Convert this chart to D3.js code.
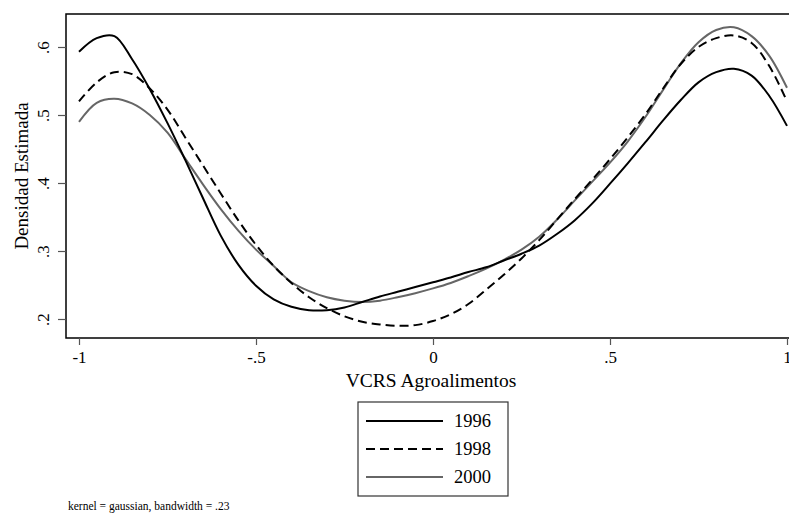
<!DOCTYPE html>
<html>
<head>
<meta charset="utf-8">
<script src="https://cdn.jsdelivr.net/npm/d3@7"></script>
<style>
  body { margin: 0; background: #fff; }
  svg text { font-family: "Liberation Serif", "Times New Roman", "DejaVu Serif", serif !important; }
</style>
</head>
<body>
<div id="chart"></div>
<script>
// Density estimates, grid of x from -1 to 1 by .05
let xGrid = d3.range(41).map(i => -1 + i * 0.05);

let d1996 = [0.593, 0.613, 0.616, 0.582, 0.538, 0.488, 0.434, 0.378, 0.323, 0.280,
             0.249, 0.229, 0.218, 0.213, 0.213, 0.217, 0.225, 0.233, 0.240, 0.247,
             0.254, 0.261, 0.269, 0.276, 0.286, 0.296, 0.308, 0.325, 0.345, 0.370,
             0.399, 0.429, 0.460, 0.492, 0.522, 0.548, 0.563, 0.568, 0.558, 0.528, 0.484];

let d1998 = [0.520, 0.548, 0.563, 0.560, 0.539, 0.508, 0.467, 0.426, 0.385, 0.345,
             0.309, 0.278, 0.253, 0.232, 0.216, 0.204, 0.196, 0.192, 0.190, 0.191,
             0.197, 0.207, 0.222, 0.243, 0.265, 0.289, 0.316, 0.346, 0.376, 0.405,
             0.435, 0.467, 0.501, 0.539, 0.575, 0.600, 0.613, 0.617, 0.606, 0.572, 0.520];

let d2000 = [0.490, 0.518, 0.524, 0.517, 0.500, 0.474, 0.436, 0.398, 0.362, 0.330,
             0.302, 0.278, 0.254, 0.241, 0.232, 0.227, 0.225, 0.227, 0.232, 0.238,
             0.245, 0.253, 0.263, 0.274, 0.287, 0.302, 0.321, 0.346, 0.374, 0.402,
             0.430, 0.461, 0.497, 0.537, 0.576, 0.607, 0.625, 0.629, 0.616, 0.587, 0.540];

let years = ["1996", "1998", "2000"];
let xTicks = [-1, -0.5, 0, 0.5, 1];
let xTickLabels = ["-1", "-.5", "0", ".5", "1"];
let yTicks = [0.2, 0.3, 0.4, 0.5, 0.6];
let yTickLabels = [".2", ".3", ".4", ".5", ".6"];

let series = [
  {name: years[0], values: d1996, color: "#000", dash: null},
  {name: years[1], values: d1998, color: "#000", dash: "9,5"},
  {name: years[2], values: d2000, color: "#666", dash: null}
];

let width = 789;
let height = 521;
let serif = "Liberation Serif";

let svg = d3.select("#chart")
  .append("svg")
  .attr("width", width).attr("height", height)
  .attr("font-family", serif);

// plot area
let frame = {left: 66, top: 14, right: 800, bottom: 338};

let xScale = d3.scaleLinear().domain([-1, 1]).range([79, 787]);
let yScale = d3.scaleLinear().domain([0.2, 0.6]).range([319, 47]);

svg.append("rect")
  .attr("x", frame.left).attr("y", frame.top)
  .attr("width", frame.right - frame.left)
  .attr("height", frame.bottom - frame.top)
  .attr("fill", "none").attr("stroke", "#000").attr("stroke-width", 1.5);

// x axis
let xAxis = svg.append("g")
  .attr("transform", `translate(0,${frame.bottom})`)
  .call(d3.axisBottom(xScale).tickValues(xTicks)
    .tickFormat((d, i) => xTickLabels[i]).tickSize(7).tickPadding(6).tickSizeOuter(0));
xAxis.attr("font-family", serif);
xAxis.select(".domain").remove();
xAxis.selectAll("line").attr("stroke", "#555").attr("stroke-width", 1.2);
xAxis.selectAll("text").attr("font-size", 17).attr("fill", "#000");

// y axis
let yAxis = svg.append("g")
  .attr("transform", `translate(${frame.left},0)`)
  .call(d3.axisLeft(yScale).tickValues(yTicks)
    .tickFormat((d, i) => yTickLabels[i]).tickSize(8).tickSizeOuter(0));
yAxis.attr("font-family", serif);
yAxis.select(".domain").remove();
yAxis.selectAll("line").attr("stroke", "#555").attr("stroke-width", 1.2);
yAxis.selectAll("text")
  .attr("font-size", 17).attr("fill", "#000")
  .attr("x", null).attr("dy", null)
  .attr("text-anchor", "middle")
  .attr("transform", "translate(-17,0) rotate(-90)")
  .attr("y", 0);

// axis titles
svg.append("text")
  .attr("x", 431).attr("y", 387)
  .attr("text-anchor", "middle")
  .attr("font-size", 19.5)
  .text("VCRS Agroalimentos");

svg.append("text")
  .attr("transform", `translate(28,${(frame.top + frame.bottom) / 2}) rotate(-90)`)
  .attr("text-anchor", "middle")
  .attr("font-size", 19)
  .text("Densidad Estimada");

// curves
let line = d3.line()
  .x((d, i) => xScale(xGrid[i]))
  .y(d => yScale(d))
  .curve(d3.curveCatmullRom.alpha(0.5));

svg.append("g")
  .selectAll("path")
  .data(series.slice().reverse())
  .enter()
  .append("path")
  .attr("d", d => line(d.values))
  .attr("fill", "none")
  .attr("stroke", d => d.color)
  .attr("stroke-width", 2)
  .attr("stroke-dasharray", d => d.dash);

// legend
let legend = svg.append("g");
legend.append("rect")
  .attr("x", 358).attr("y", 402).attr("width", 150).attr("height", 94)
  .attr("fill", "#fff").attr("stroke", "#333").attr("stroke-width", 1.2);

let rows = legend.selectAll("g.row")
  .data(series).enter()
  .append("g")
  .attr("transform", (d, i) => `translate(0,${421 + i * 28})`);

rows.append("line")
  .attr("x1", 366).attr("x2", 443)
  .attr("stroke", d => d.color).attr("stroke-width", 2)
  .attr("stroke-dasharray", d => d.dash);

rows.append("text")
  .attr("x", 454).attr("y", 6)
  .attr("font-size", 18.5)
  .text(d => d.name);

// footnote
svg.append("text")
  .attr("x", 68).attr("y", 510)
  .attr("font-size", 11.5)
  .text("kernel = gaussian, bandwidth = .23");
</script>
</body>
</html>
